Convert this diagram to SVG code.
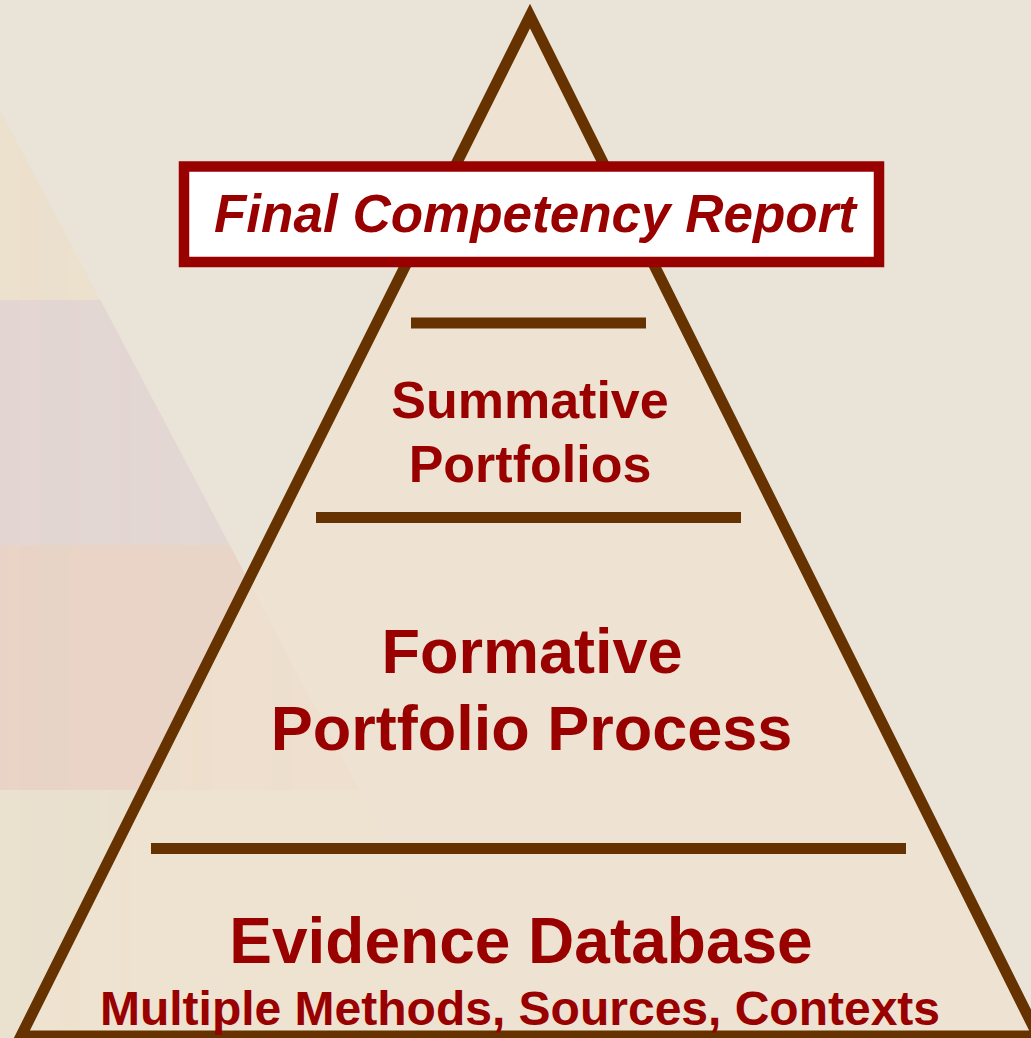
<svg xmlns="http://www.w3.org/2000/svg" width="1031" height="1038" viewBox="0 0 1031 1038">
  <defs>
    <style>
      .bar { stroke: #663300; stroke-width: 11; fill: none; }
      .lbl { font-family: "Liberation Sans", Arial, sans-serif; font-weight: bold; fill: #990000; text-anchor: middle; }
    </style>
    <clipPath id="wedge">
      <polygon points="0,110 490,1038 0,1038"/>
    </clipPath>
    <linearGradient id="fadeR" x1="0" y1="0" x2="1" y2="0">
      <stop offset="0" stop-color="#fff" stop-opacity="0.7"/>
      <stop offset="1" stop-color="#fff" stop-opacity="0.3"/>
    </linearGradient>
    <mask id="fadeMask">
      <rect x="0" y="0" width="1031" height="1038" fill="url(#fadeR)"/>
    </mask>
  </defs>

  <g id="background">
    <rect x="0" y="0" width="1031" height="1038" fill="#EAE3D8"/>
    <g clip-path="url(#wedge)" mask="url(#fadeMask)">
      <rect x="0" y="110" width="500" height="190" fill="#ECDFC8"/>
      <rect x="0" y="300" width="500" height="245" fill="#DFD0D0"/>
      <rect x="0" y="545" width="500" height="245" fill="#E8CCBE"/>
      <rect x="0" y="790" width="500" height="248" fill="#E9DFCA"/>
    </g>
  </g>

  <g id="pyramid">
    <polygon points="530,16 21,1036 1038,1036" fill="#EFE3D0" fill-opacity="0.7" stroke="#663300" stroke-width="11" stroke-linejoin="miter" stroke-miterlimit="10"/>
  </g>

  <g id="connectors">
    <line class="bar" x1="411" y1="323" x2="646" y2="323"/>
    <line class="bar" x1="316" y1="517.5" x2="741" y2="517.5"/>
    <line class="bar" x1="151" y1="848.5" x2="906" y2="848.5"/>
  </g>

  <g id="node-final-report">
    <rect x="184" y="166.5" width="695" height="95.5" fill="#FFFFFF" stroke="#990000" stroke-width="10.5"/>
    <text class="lbl" x="535" y="232" font-size="53" font-style="italic">Final Competency Report</text>
  </g>

  <g id="node-summative">
    <text class="lbl" x="530" y="418" font-size="52">Summative</text>
    <text class="lbl" x="530" y="482" font-size="52">Portfolios</text>
  </g>

  <g id="node-formative">
    <text class="lbl" x="532" y="673" font-size="63">Formative</text>
    <text class="lbl" x="531.5" y="750" font-size="63">Portfolio Process</text>
  </g>

  <g id="node-evidence">
    <text class="lbl" x="521" y="963" font-size="64">Evidence Database</text>
    <text class="lbl" x="520" y="1025" font-size="48">Multiple Methods, Sources, Contexts</text>
  </g>
</svg>
